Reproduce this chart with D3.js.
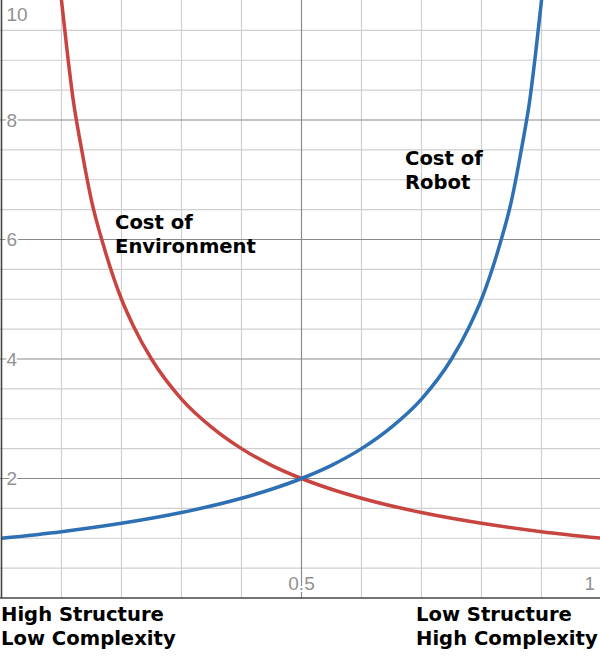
<!DOCTYPE html>
<html>
<head>
<meta charset="utf-8">
<script src="https://cdn.jsdelivr.net/npm/d3@7"></script>
<style>
  html, body { margin: 0; padding: 0; background: #fff; }
  svg { display: block; }
</style>
</head>
<body>
<svg id="chart" width="600" height="657"></svg>
<script>
// ---- Data ----
const envX  = [0.095, 0.1, 0.11, 0.12, 0.13, 0.14, 0.15, 0.17, 0.2, 0.22, 0.25, 0.3, 0.35, 0.4, 0.45, 0.5, 0.55, 0.6, 0.7, 0.8, 0.9, 1.0];
const envY  = [10.5, 10, 9.1, 8.3, 7.7, 7.15, 6.65, 5.9, 5.0, 4.55, 4.0, 3.33, 2.86, 2.5, 2.22, 2.0, 1.82, 1.67, 1.43, 1.25, 1.11, 1.0];
const robX  = [0.0, 0.1, 0.2, 0.3, 0.4, 0.45, 0.5, 0.55, 0.6, 0.65, 0.7, 0.75, 0.78, 0.8, 0.83, 0.85, 0.86, 0.87, 0.88, 0.89, 0.9, 0.905];
const robY  = [1.0, 1.11, 1.25, 1.43, 1.67, 1.82, 2.0, 2.22, 2.5, 2.86, 3.33, 4.0, 4.55, 5.0, 5.9, 6.65, 7.15, 7.7, 8.3, 9.1, 10, 10.5];
const yTickLabels = ["2", "4", "6", "8", "10"];
const yTickValues = [2, 4, 6, 8, 10];
const xTickLabels = ["0.5", "1"];
const xTickValues = [0.5, 1];
const seriesNames = [["Cost of", "Environment"], ["Cost of", "Robot"]];
const leftCaption = ["High Structure", "Low Complexity"];
const rightCaption = ["Low Structure", "High Complexity"];

// ---- Scales ----
const svg = d3.select("#chart");
const x = d3.scaleLinear().domain([0, 1]).range([1.5, 601.5]);
const y = d3.scaleLinear().domain([0, 10]).range([598, 0.5]);
const plotW = 600, plotH = 598;

svg.append("defs").append("clipPath").attr("id", "plotclip")
  .append("rect").attr("x", 0).attr("y", 0).attr("width", plotW).attr("height", plotH);

const plot = svg.append("g").attr("clip-path", "url(#plotclip)");

// Minor grid
const vMinor = d3.range(1, 10).map(i => i / 10).filter(v => Math.abs(v - 0.5) > 1e-9);
const hMinor = d3.range(1, 20).map(i => i / 2).filter(v => v % 2 !== 0);
plot.append("g").selectAll("line").data(vMinor).join("line")
  .attr("x1", d => x(d)).attr("x2", d => x(d)).attr("y1", 0).attr("y2", plotH)
  .attr("stroke", "#cfcfcf").attr("stroke-width", 1.2);
plot.append("g").selectAll("line").data(hMinor).join("line")
  .attr("x1", 0).attr("x2", plotW).attr("y1", d => y(d)).attr("y2", d => y(d))
  .attr("stroke", "#cfcfcf").attr("stroke-width", 1.2);

// Major grid
plot.append("g").selectAll("line").data([0.5]).join("line")
  .attr("x1", d => x(d)).attr("x2", d => x(d)).attr("y1", 0).attr("y2", plotH)
  .attr("stroke", "#8a8a8a").attr("stroke-width", 1.2);
plot.append("g").selectAll("line").data([2, 4, 6, 8]).join("line")
  .attr("x1", 0).attr("x2", plotW).attr("y1", d => y(d)).attr("y2", d => y(d))
  .attr("stroke", "#8a8a8a").attr("stroke-width", 1.2);

// Axes lines
svg.append("line").attr("x1", x(0)).attr("x2", x(0)).attr("y1", 0).attr("y2", y(0))
  .attr("stroke", "#444").attr("stroke-width", 1.6);
svg.append("line").attr("x1", 0).attr("x2", plotW).attr("y1", y(0)).attr("y2", y(0))
  .attr("stroke", "#444").attr("stroke-width", 1.6);

// Tick labels
const labelFont = "'Liberation Sans', Arial, sans-serif";
svg.append("g").selectAll("text").data(yTickValues).join("text")
  .attr("x", 6.5)
  .attr("y", d => Math.max(y(d), 14))
  .attr("dy", "0.36em")
  .attr("font-family", labelFont).attr("font-size", 19).attr("fill", "#919191")
  .attr("stroke", "#fff").attr("stroke-width", 4).attr("paint-order", "stroke")
  .text((d, i) => yTickLabels[i]);
svg.append("g").selectAll("text").data(xTickValues).join("text")
  .attr("x", d => Math.min(x(d), 595))
  .attr("y", 590)
  .attr("text-anchor", d => x(d) > 595 ? "end" : "middle")
  .attr("font-family", labelFont).attr("font-size", 19).attr("fill", "#919191")
  .attr("stroke", "#fff").attr("stroke-width", 4).attr("paint-order", "stroke")
  .text((d, i) => xTickLabels[i]);

// Curves
const line = d3.line().x(d => x(d[0])).y(d => y(d[1])).curve(d3.curveMonotoneX);
plot.append("path").datum(envX.map((v, i) => [v, envY[i]]))
  .attr("d", line).attr("fill", "none").attr("stroke", "#c74440").attr("stroke-width", 3.5);
plot.append("path").datum(robX.map((v, i) => [v, robY[i]]))
  .attr("d", line).attr("fill", "none").attr("stroke", "#2d70b3").attr("stroke-width", 3.5);

// Text annotations
const boldFont = "'DejaVu Sans', sans-serif";
function block(lines, x0, y0, lh) {
  const t = svg.append("text").attr("font-family", boldFont).attr("font-weight", "bold")
    .attr("font-size", 19.6).attr("fill", "#000");
  lines.forEach((s, i) => t.append("tspan").attr("x", x0).attr("y", y0 + i * lh).text(s));
}
block(seriesNames[0], 115, 229, 24);
block(seriesNames[1], 405, 165, 24);
block(leftCaption, 1, 621, 24);
block(rightCaption, 416, 621, 24);
</script>
</body>
</html>
